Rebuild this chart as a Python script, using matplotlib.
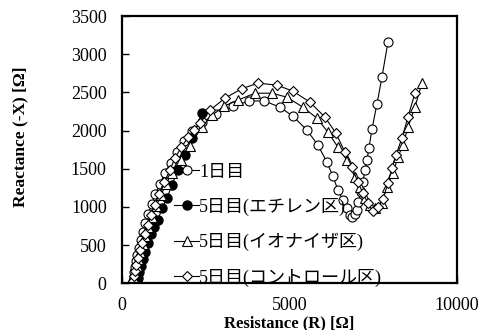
import matplotlib
matplotlib.use('Agg')
import matplotlib.pyplot as plt

# 1日目 (open circles)
day1_r = [330, 345, 365, 390, 420, 455, 500, 555, 620, 700, 790, 890, 1000, 1130,
          1280, 1450, 1640, 1850, 2080, 2400, 2800, 3313, 3791, 4240, 4716, 5104,
          5522, 5851, 6119, 6300, 6448, 6597, 6716, 6806, 6866, 6960, 7015, 7060,
          7130, 7194, 7254, 7313, 7373, 7463, 7612, 7761, 7940]
day1_x = [30, 80, 140, 210, 290, 370, 460, 560, 670, 790, 910, 1040, 1170, 1300,
          1440, 1580, 1720, 1860, 1990, 2110, 2220, 2320, 2386, 2390, 2307, 2189,
          2006, 1809, 1586, 1400, 1219, 1088, 983, 891, 865, 900, 957, 1062,
          1193, 1324, 1480, 1612, 1770, 2020, 2346, 2700, 3159]

# 5日目(エチレン区) (filled circles)
eth_r = [450, 480, 520, 570, 630, 700, 780, 870, 970, 1075, 1194, 1343, 1493,
         1672, 1881, 2090, 2388]
eth_x = [15, 70, 140, 220, 310, 410, 520, 640, 740, 826, 983, 1114, 1285,
         1481, 1678, 1901, 2228]

# 5日目(イオナイザ区) (open triangles)
ion_r = [350, 370, 400, 440, 490, 550, 620, 700, 790, 900, 1020, 1160, 1320,
         1500, 1750, 2030, 2388, 2687, 3050, 3463, 3970, 4478, 4925, 5403, 5821,
         6149, 6448, 6716, 6955, 7104, 7254, 7403, 7552, 7761, 7910, 8090, 8239,
         8388, 8537, 8746, 8955]
ion_x = [20, 70, 140, 220, 310, 410, 510, 620, 740, 870, 1010, 1150, 1300,
         1450, 1620, 1800, 2050, 2200, 2320, 2399, 2490, 2490, 2438, 2307, 2163,
         1979, 1783, 1612, 1390, 1258, 1114, 1022, 983, 1049, 1258, 1442, 1652,
         1809, 2045, 2307, 2622]

# 5日目(コントロール区) (open diamonds)
ctl_r = [330, 350, 380, 420, 470, 530, 600, 680, 770, 870, 980, 1100, 1250,
         1433, 1582, 1770, 1970, 2150, 2328, 2627, 3075, 3582, 4060, 4627, 5104,
         5612, 6060, 6388, 6657, 6866, 7045, 7194, 7343, 7493, 7642, 7791, 7940,
         8060, 8179, 8358, 8537, 8746]
ctl_x = [30, 90, 160, 240, 330, 430, 530, 640, 760, 890, 1030, 1170, 1320,
         1481, 1639, 1780, 1910, 2010, 2097, 2268, 2425, 2550, 2622, 2596, 2517,
         2373, 2176, 1966, 1717, 1521, 1324, 1180, 1049, 940, 1000, 1100, 1311,
         1507, 1678, 1901, 2176, 2491]

labels = ['1日目', '5日目(エチレン区)', '5日目(イオナイザ区)', '5日目(コントロール区)']

plt.rcParams['font.family'] = ['Liberation Serif', 'Noto Sans CJK JP']

fig = plt.figure(figsize=(4.82, 3.30), dpi=100)
ax = fig.add_axes([0.253, 0.142, 0.695, 0.809])

ms = 6.5
lw = 0.8
ax.plot(day1_r, day1_x, '-o', color='black', mfc='white', mec='black', ms=ms, lw=lw, mew=0.8, label=labels[0])
ax.plot(eth_r, eth_x, '-o', color='black', mfc='black', mec='black', ms=ms, lw=lw, label=labels[1])
ax.plot(ion_r, ion_x, '-^', color='black', mfc='white', mec='black', ms=ms + 0.5, lw=lw, mew=0.8, label=labels[2])
ax.plot(ctl_r, ctl_x, '-D', color='black', mfc='white', mec='black', ms=ms - 1.5, lw=lw, mew=0.8, label=labels[3])

ax.set_xlim(0, 10000)
ax.set_ylim(0, 3500)
ax.set_xticks([0, 5000, 10000])
ax.set_yticks(range(0, 3501, 500))
ax.tick_params(direction='in', length=5, width=1, labelsize=13, pad=11)
ax.tick_params(axis='x', pad=10)
for s in ax.spines.values():
    s.set_linewidth(1.6)

ax.set_xlabel('Resistance (R) [Ω]', fontsize=12, fontweight='bold')
ax.xaxis.set_label_coords(0.5, -0.119)
ax.set_ylabel('Reactance (-X) [Ω]', fontsize=12.5, fontweight='bold')
ax.yaxis.set_label_coords(-0.28, 0.55)

ax.legend(loc='upper left', bbox_to_anchor=(0.155, 0.448), frameon=False,
          fontsize=13, handlelength=1.4, handletextpad=0.0, labelspacing=0.95,
          borderpad=0, borderaxespad=0)

fig.savefig('out.png', dpi=100)
